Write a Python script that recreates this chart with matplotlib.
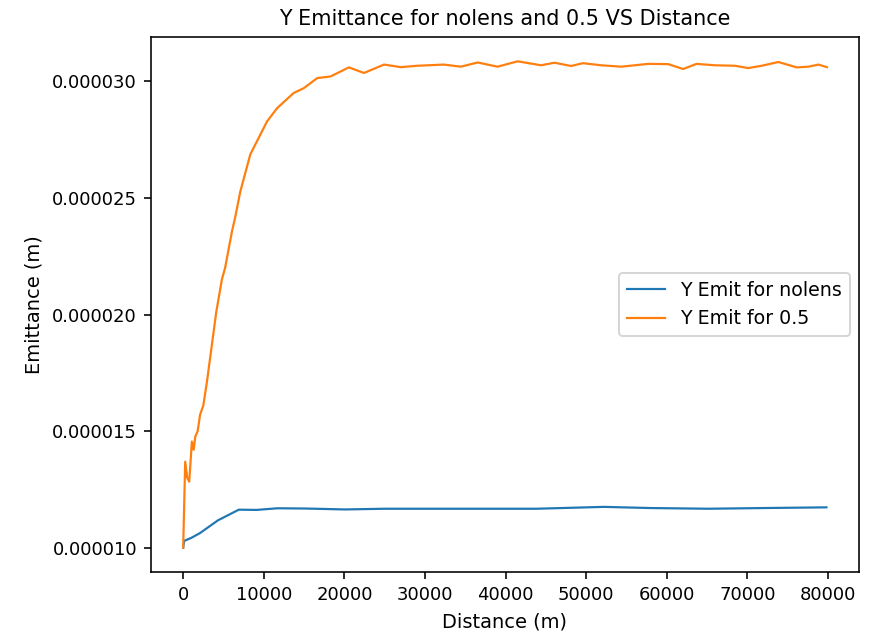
import matplotlib
matplotlib.use("Agg")
import matplotlib.pyplot as plt

# distance (m) and emittance (m)
dist_nolens = [0, 120, 1000, 2100, 3200, 4300, 5600, 6900, 9100, 11700, 15000,
               20100, 25000, 29700, 36000, 43800, 52200, 58000, 65200, 72000, 79800]
emit_nolens = [1.000e-5, 1.029e-5, 1.042e-5, 1.063e-5, 1.090e-5, 1.117e-5, 1.140e-5,
               1.163e-5, 1.162e-5, 1.169e-5, 1.168e-5, 1.164e-5, 1.167e-5, 1.167e-5,
               1.167e-5, 1.167e-5, 1.175e-5, 1.170e-5, 1.167e-5, 1.170e-5, 1.173e-5]

dist_05 = [0, 250, 500, 750, 1080, 1300, 1500, 1800, 2100, 2500, 2950, 4100, 4800,
           5200, 6050, 6470, 7090, 8330, 10400, 11650, 13700, 14970, 16630, 18280,
           20560, 22430, 24920, 27000, 29070, 32340, 34450, 36530, 39000, 41500,
           44400, 46060, 48130, 49590, 51870, 54350, 57670, 60160, 62030, 63680,
           65960, 68450, 70110, 71770, 73840, 76120, 77570, 78810, 79850]
emit_05 = [1.000e-5, 1.369e-5, 1.300e-5, 1.283e-5, 1.455e-5, 1.420e-5, 1.476e-5,
           1.500e-5, 1.571e-5, 1.610e-5, 1.712e-5, 2.010e-5, 2.150e-5, 2.200e-5,
           2.356e-5, 2.420e-5, 2.528e-5, 2.687e-5, 2.828e-5, 2.885e-5, 2.950e-5,
           2.971e-5, 3.014e-5, 3.021e-5, 3.060e-5, 3.036e-5, 3.072e-5, 3.061e-5,
           3.067e-5, 3.072e-5, 3.063e-5, 3.081e-5, 3.063e-5, 3.086e-5, 3.069e-5,
           3.080e-5, 3.066e-5, 3.078e-5, 3.069e-5, 3.063e-5, 3.075e-5, 3.074e-5,
           3.053e-5, 3.075e-5, 3.069e-5, 3.067e-5, 3.057e-5, 3.067e-5, 3.083e-5,
           3.060e-5, 3.063e-5, 3.072e-5, 3.061e-5]

fig = plt.figure(figsize=(872 / 144, 633 / 144), dpi=144)
ax = fig.add_axes([151 / 872, 1 - 572 / 633, 708 / 872, 535 / 633])

ax.plot(dist_nolens, emit_nolens, lw=1.1, label="Y Emit for nolens")
ax.plot(dist_05, emit_05, lw=1.1, label="Y Emit for 0.5")

ax.set_title("Y Emittance for nolens and 0.5 VS Distance", fontsize=10.4)
ax.set_xlabel("Distance (m)", fontsize=9.7)
ax.set_ylabel("Emittance (m)", fontsize=9.7)
ax.yaxis.set_major_formatter(matplotlib.ticker.FormatStrFormatter("%.6f"))
ax.tick_params(labelsize=9)
ax.legend(loc="center right", fontsize=9.5)

fig.savefig("out.png", dpi=144)
